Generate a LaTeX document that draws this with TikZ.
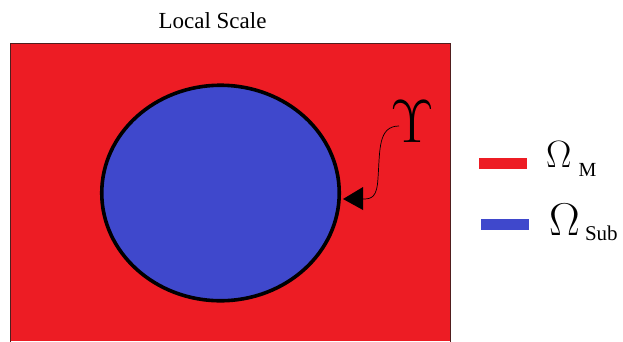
\RequirePackage{fix-cm}
\documentclass[tikz,border=0pt]{standalone}
\usepackage{fontspec}
\setmainfont{Liberation Serif}
\usetikzlibrary{shapes.geometric}
\definecolor{pred}{RGB}{237,28,36}
\definecolor{pblue}{RGB}{63,72,204}
\begin{document}
\begin{tikzpicture}[x=1pt,y=-1pt,
  txt/.style={inner sep=0pt,outer sep=0pt,anchor=base west},
  legbar/.style={inner sep=0pt,outer sep=0pt,minimum width=48pt,minimum height=11pt}]
\useasboundingbox (0,0) rectangle (623,341);
% domain
\fill[pred] (10,43) rectangle (450,341);
\draw[draw={rgb,255:red,80;green,30;blue,30},line width=0.8pt] (10,342) -- (10,43) -- (450,43) -- (450,342);
\node[ellipse,draw=black,fill=pblue,line width=3.6pt,minimum width=237.5pt,minimum height=215.5pt,inner sep=0pt] (sub) at (220.5,193) {};
\node[inner sep=0pt] (title) at (212.5,21) {\fontsize{23}{23}\selectfont Local Scale};
% gamma label and arrow
\node[inner sep=0pt,anchor=base] (gam) at (412,142) {\fontsize{61}{61}\selectfont $\Upsilon$};
\coordinate (tip) at (343,199);
\coordinate (tb1) at (363,187);
\coordinate (tb2) at (363,210);
\coordinate (cstart) at (399,126);
\coordinate (cend) at (363,199);
\draw[line width=0.7pt] (cstart) .. controls (378,126) and (380,150) .. (378,178) .. controls (377,197) and (372,199) .. (cend);
\fill[black] (tip) -- (tb1) -- (tb2) -- cycle;
% legend
\node[legbar,fill=pred] (barM) at (503,163) {};
\node[legbar,fill=pblue] (barS) at (504.5,224.5) {};
\node[txt] (omM) at (546,167) {\fontsize{38}{38}\selectfont $\Omega$};
\node[txt] (subM) at (578.5,176) {\fontsize{20}{20}\selectfont M};
\node[txt] (omS) at (549,235) {\fontsize{46}{46}\selectfont $\Omega$};
\node[txt] (subS) at (585,240) {\fontsize{21}{21}\selectfont Sub};
\end{tikzpicture}
\end{document}
